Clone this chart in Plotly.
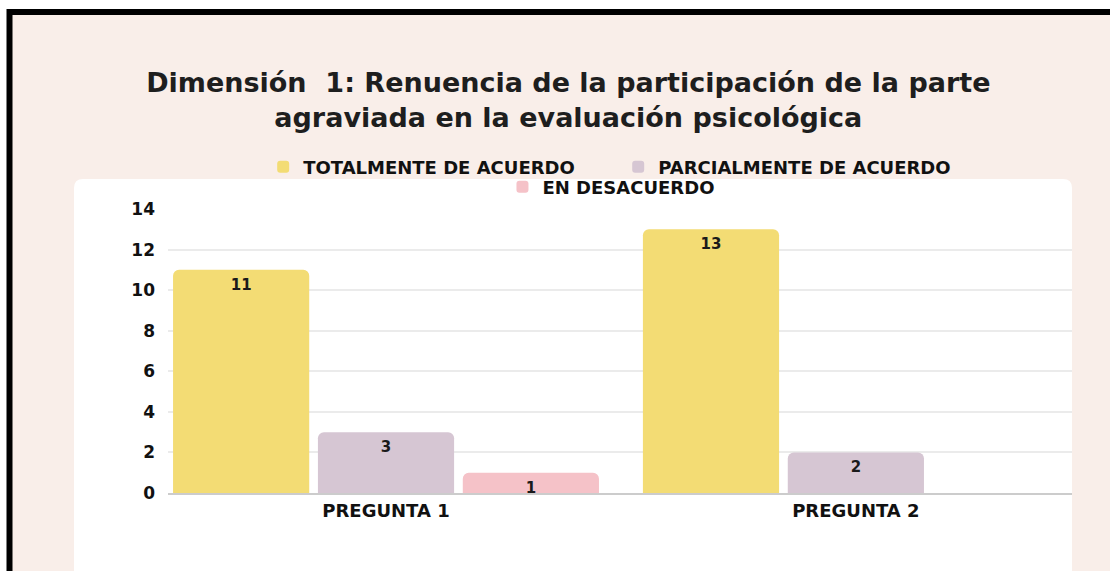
import plotly.graph_objects as go

categories = ["PREGUNTA 1", "PREGUNTA 2"]
series_names = ["TOTALMENTE DE ACUERDO", "PARCIALMENTE DE ACUERDO", "EN DESACUERDO"]
totalmente = [11, 13]
parcialmente = [3, 2]
desacuerdo = [1, None]
y_ticks = [0, 2, 4, 6, 8, 10, 12, 14]

colors = ["#f3dc74", "#d6c6d3", "#f5c2c8"]
FONT = "DejaVu Sans"
W, H = 1110, 571
L, R, T, B = 168, 38, 209, 78
PW, PH = W - L - R, H - T - B


def px_x(x):
    return (x - L) / PW


def px_y(y):
    return (H - B - y) / PH


fig = go.Figure()
for name, vals, col, leg in zip(series_names, [totalmente, parcialmente, desacuerdo], colors,
                                ["legend", "legend", "legend2"]):
    fig.add_trace(go.Bar(
        x=categories, y=vals, name=name, marker_color=col, marker_line_width=0,
        text=[("" if v is None else str(v)) for v in vals],
        textposition="inside", insidetextanchor="end", textangle=0, constraintext="none",
        textfont=dict(family=FONT, size=15, color="#1a1a1a", weight="bold"),
        legend=leg, cliponaxis=False,
    ))

# background: beige card with black border, white inner panel
r = 9
x0, x1 = px_x(74), px_x(1072)
y0, y1 = px_y(179), px_y(590)
rx, ry = r / PW, r / PH
panel = (f"M {x0+rx},{y0} L {x1-rx},{y0} Q {x1},{y0} {x1},{y0-ry} "
         f"L {x1},{y1} L {x0},{y1} L {x0},{y0-ry} Q {x0},{y0} {x0+rx},{y0} Z")
fig.update_layout(shapes=[
    dict(type="rect", xref="paper", yref="paper", layer="below",
         x0=px_x(9.5), x1=px_x(1125), y0=px_y(12), y1=px_y(590),
         fillcolor="#f9eee9", line=dict(color="#000000", width=6)),
    dict(type="path", xref="paper", yref="paper", layer="below", path=panel,
         fillcolor="#ffffff", line=dict(width=0)),
])

fig.update_layout(
    width=W, height=H,
    margin=dict(l=L, r=R, t=T, b=B),
    paper_bgcolor="#ffffff", plot_bgcolor="rgba(0,0,0,0)",
    barmode="group", bargap=0.075, bargroupgap=0.06, barcornerradius=6,
    uniformtext=dict(minsize=15, mode="show"),
    font=dict(family=FONT, color="#111111"),
    title=dict(
        text="Dimensión  1: Renuencia de la participación de la parte<br>agraviada en la evaluación psicológica",
        x=0.512, xanchor="center", yref="container", y=1 - 92 / H, yanchor="top",
        font=dict(family=FONT, size=27, color="#1e1e1e", weight="bold"),
    ),
    legend=dict(orientation="h", x=0.498, xanchor="center", y=px_y(167), yanchor="middle",
                bgcolor="rgba(0,0,0,0)", font=dict(family=FONT, size=18, color="#111111", weight="bold"),
                traceorder="normal", entrywidth=310, itemclick=False),
    legend2=dict(orientation="h", x=0.49, xanchor="center", y=px_y(187), yanchor="middle",
                 bgcolor="rgba(0,0,0,0)", font=dict(family=FONT, size=18, color="#111111", weight="bold")),
    xaxis=dict(range=[-0.464, 1.46], showgrid=False, showline=True, linecolor="#cccccc", linewidth=2,
               tickfont=dict(family=FONT, size=18, color="#111111", weight="bold"), ticks=""),
    yaxis=dict(range=[0, 14], tickvals=y_ticks, showgrid=True, gridcolor="#ebebeb", gridwidth=2,
               zeroline=False, showline=False, ticklabelstandoff=12,
               tickfont=dict(family=FONT, size=17, color="#111111", weight="bold")),
)

fig.write_html("out.html", config={"displayModeBar": False},
               post_script="document.body.style.margin='0';document.body.style.overflow='hidden';")
